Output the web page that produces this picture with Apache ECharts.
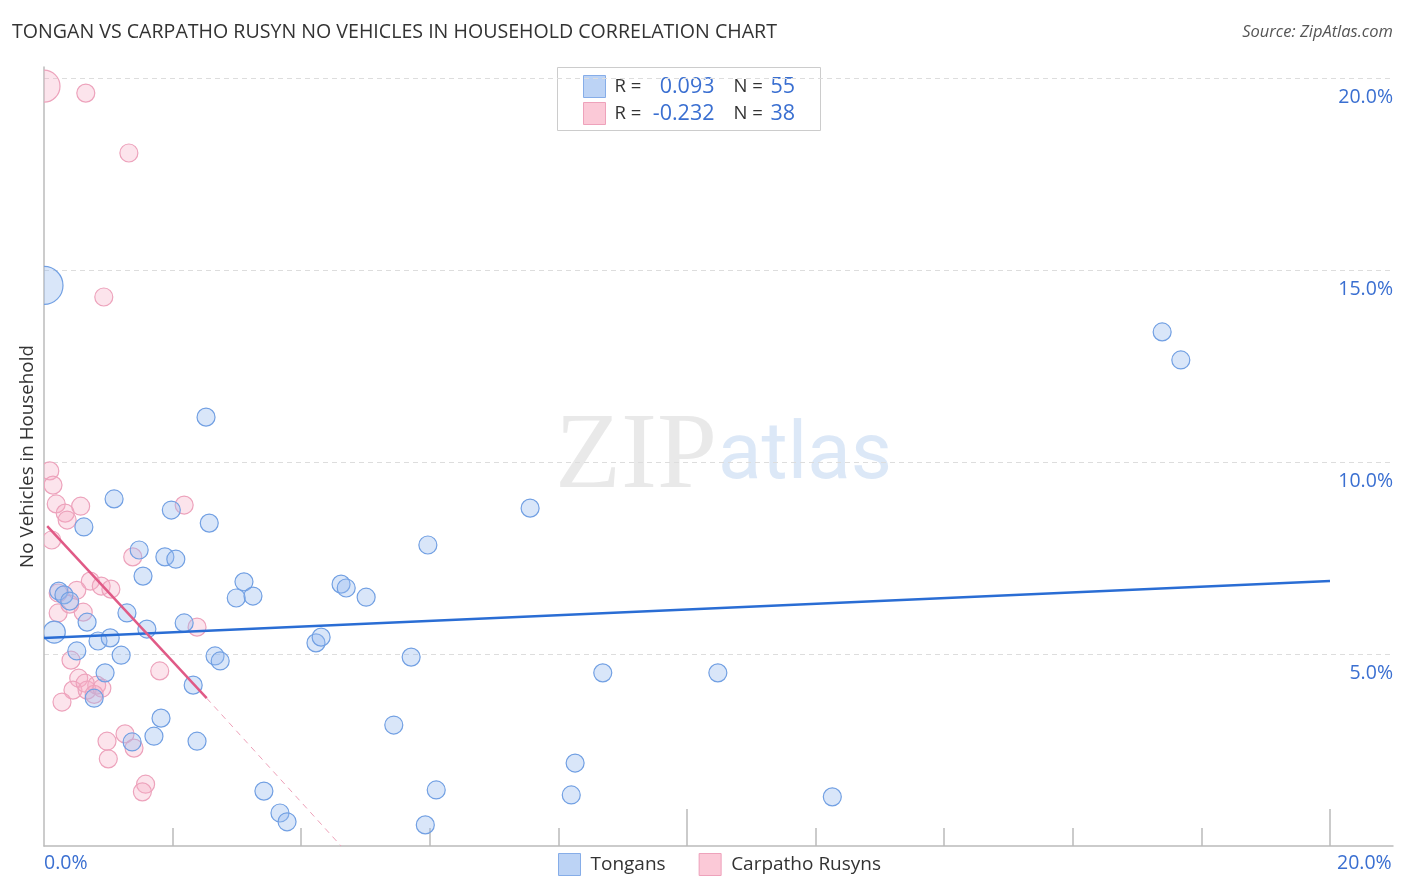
<!DOCTYPE html>
<html><head><meta charset="utf-8">
<script src="https://cdn.jsdelivr.net/npm/echarts@6/dist/echarts.min.js"></script>
<style>html,body{margin:0;padding:0;background:#fff}#c{width:1406px;height:892px}</style>
</head><body><div id="c"></div>
<script>
// ---- data ----
const seriesNames = ['Tongans', 'Carpatho Rusyns'];
const rValues = ['0.093', '-0.232'];
const nValues = ['55', '38'];

const tonganX = [0.0,17.39,17.68,2.52,1.09,1.98,0.62,2.57,7.56,5.97,1.48,1.88,2.05,1.54,3.11,2.99,3.25,4.62,4.70,5.01,0.23,0.31,0.40,0.67,1.29,1.60,2.18,0.16,0.84,1.03,0.51,1.20,0.95,0.78,2.32,2.66,2.74,1.82,1.71,1.37,2.38,4.23,4.31,5.71,8.69,10.48,5.44,8.26,6.10,8.20,12.26,3.42,3.67,3.78,5.93];
const tonganY = [14.6,13.39,12.66,11.17,9.04,8.75,8.31,8.41,8.80,7.84,7.71,7.53,7.47,7.03,6.88,6.46,6.51,6.82,6.72,6.48,6.64,6.54,6.38,5.83,6.07,5.65,5.81,5.57,5.34,5.42,5.08,4.97,4.51,3.85,4.19,4.95,4.82,3.33,2.86,2.71,2.73,5.29,5.44,4.92,4.51,4.51,3.15,2.16,1.46,1.33,1.28,1.43,0.86,0.63,0.55];

const rusynX = [0.0,0.65,1.32,0.93,0.09,0.14,0.19,0.33,0.36,0.57,2.18,0.12,1.38,0.72,0.89,1.04,0.51,0.22,0.61,0.22,0.40,2.38,0.42,1.80,0.54,0.45,0.67,0.82,0.90,0.64,0.28,0.98,1.26,1.40,1.00,1.58,1.53,0.78];
const rusynY = [19.79,19.61,18.05,14.30,9.77,9.40,8.91,8.67,8.49,8.85,8.88,7.97,7.53,6.90,6.77,6.69,6.66,6.59,6.09,6.07,6.30,5.70,4.84,4.56,4.37,4.06,4.06,4.19,4.11,4.24,3.75,2.73,2.92,2.55,2.27,1.61,1.41,3.95];

const tonganTrendX = [0, 20];
const tonganTrendY = [5.42, 6.90];
const rusynTrendX = [0.05, 2.53];
const rusynTrendY = [8.33, 3.85];
const rusynDashX = [2.53, 4.62];
const rusynDashY = [3.85, 0];

const xTickValues = [2, 4, 6, 8, 12, 14, 16, 18];
const xLongTickValues = [10, 20];
const xLabelValues = [0, 20];
const yLabelValues = [5, 10, 15, 20];

// ---- styling (kept apart from data) ----
const tonganBig = {0: 38, 27: 22};
const rusynBig = {0: 32};
const BLUE = '#3a6fd1';
const FONT = '"Open Sans", Roboto, sans-serif';
const zip = (xs, ys) => xs.map((x, i) => [x, ys[i]]);

function bubbleSeries(name, data, big, fill, stroke, z) {
  return {
    name, type: 'custom', data, z, clip: true, encode: {x: 0, y: 1},
    renderItem: (params, api) => {
      const p = api.coord([api.value(0), api.value(1)]);
      const r = (big[params.dataIndex] || 18) / 2;
      return {type: 'circle', shape: {cx: p[0], cy: p[1], r}, style: {fill, stroke, lineWidth: 1.2}};
    }
  };
}

const chart = echarts.init(document.getElementById('c'));
const yCommon = {type: 'value', min: 0, max: 20.29, interval: 5};
chart.setOption({
  animation: false,
  title: [
    {text: 'TONGAN VS CARPATHO RUSYN NO VEHICLES IN HOUSEHOLD CORRELATION CHART', left: 12, top: 22, padding: 0,
     textStyle: {fontFamily: FONT, fontSize: 19.6, fontWeight: 'normal', color: '#333'}},
    {text: 'Source: ZipAtlas.com', right: 13, top: 24, padding: 0,
     textStyle: {fontFamily: FONT, fontSize: 16.5, fontWeight: 'normal', fontStyle: 'italic', color: '#555'}}
  ],
  grid: {left: 44, right: 13, top: 67, bottom: 46, containLabel: false},
  xAxis: [
    {type: 'value', min: 0, max: 20.98,
     axisLine: {show: true, lineStyle: {color: '#bbb', width: 1.5}},
     axisTick: {show: true, inside: true, length: 18, customValues: xTickValues, lineStyle: {color: '#bbb', width: 1.5}},
     splitLine: {show: false},
     axisLabel: {show: true, customValues: xLabelValues, align: 'left', margin: 7,
       fontFamily: FONT, fontSize: 19.5, color: BLUE,
       formatter: v => v === 0 ? v.toFixed(1) + '%' : '{r|' + v.toFixed(1) + '%}',
       rich: {r: {fontFamily: FONT, fontSize: 19.5, color: BLUE, padding: [0, 0, 0, 7]}}}},
    {type: 'value', min: 0, max: 20.98, position: 'bottom', gridIndex: 0,
     axisLine: {show: false},
     axisTick: {show: true, inside: true, length: 37, customValues: xLongTickValues, lineStyle: {color: '#bbb', width: 1.5}},
     splitLine: {show: false}, axisLabel: {show: false}}
  ],
  yAxis: [
    Object.assign({}, yCommon, {position: 'left',
      name: 'No Vehicles in Household', nameLocation: 'middle', nameGap: 7, nameRotate: 90,
      nameTextStyle: {fontFamily: FONT, fontSize: 18.8, color: '#333', verticalAlign: 'bottom'},
      axisLine: {show: true, lineStyle: {color: '#bbb', width: 1.5}},
      axisTick: {show: false}, axisLabel: {show: false},
      splitLine: {show: true, showMinLine: false, showMaxLine: false, lineStyle: {color: '#ddd', type: [5, 4], width: 1}}}),
    Object.assign({}, yCommon, {position: 'right',
      axisLine: {show: false}, axisTick: {show: false}, splitLine: {show: false},
      axisLabel: {show: true, inside: true, margin: 0, customValues: yLabelValues, verticalAlign: 'top', padding: [9, 0, 0, 0],
        fontFamily: FONT, fontSize: 19.5, color: BLUE, formatter: v => v.toFixed(1) + '%'}})
  ],
  legend: {
    data: [
      {name: seriesNames[0], itemStyle: {color: '#bcd3f5', borderColor: '#86ade8', borderWidth: 1}},
      {name: seriesNames[1], itemStyle: {color: '#fbc9d7', borderColor: '#eea2bb', borderWidth: 1}}
    ],
    left: 558, top: 853, padding: 0, itemWidth: 22, itemHeight: 22, itemGap: 33, icon: 'rect',
    textStyle: {fontFamily: FONT, fontSize: 19, color: '#333', padding: [0, 0, 0, 5]}
  },
  graphic: [
    {type: 'text', left: 555, top: 405, z: 0, silent: true,
     style: {text: 'ZIP', font: '108px "Liberation Serif", "DejaVu Serif", serif', fill: 'rgba(200,200,200,0.4)'}},
    {type: 'text', left: 718, top: 418, z: 0, silent: true,
     style: {text: 'atlas', font: '80px Roboto, sans-serif', fill: 'rgba(150,185,230,0.33)'}},
    {type: 'group', left: 557, top: 67, z: 100, children: [
      {type: 'rect', shape: {x: 0, y: 0, width: 263, height: 63}, style: {fill: '#fff', stroke: '#ccc', lineWidth: 1}},
      {type: 'rect', shape: {x: 26, y: 8, width: 22, height: 22}, style: {fill: '#bcd3f5', stroke: '#86ade8', lineWidth: 1}},
      {type: 'rect', shape: {x: 26, y: 35, width: 22, height: 22}, style: {fill: '#fbc9d7', stroke: '#eea2bb', lineWidth: 1}},
      {type: 'text', x: 57, y: 19, style: {text: 'R = ', font: '18.5px ' + FONT, fill: '#333', verticalAlign: 'middle'}},
      {type: 'text', x: 57, y: 46, style: {text: 'R = ', font: '18.5px ' + FONT, fill: '#333', verticalAlign: 'middle'}},
      {type: 'text', x: 157, y: 19, style: {text: rValues[0], font: '21.5px ' + FONT, fill: BLUE, align: 'right', verticalAlign: 'middle'}},
      {type: 'text', x: 157, y: 46, style: {text: rValues[1], font: '21.5px ' + FONT, fill: BLUE, align: 'right', verticalAlign: 'middle'}},
      {type: 'text', x: 176, y: 19, style: {text: 'N = ', font: '18.5px ' + FONT, fill: '#333', verticalAlign: 'middle'}},
      {type: 'text', x: 176, y: 46, style: {text: 'N = ', font: '18.5px ' + FONT, fill: '#333', verticalAlign: 'middle'}},
      {type: 'text', x: 213, y: 19, style: {text: nValues[0], font: '21.5px ' + FONT, fill: BLUE, verticalAlign: 'middle'}},
      {type: 'text', x: 213, y: 46, style: {text: nValues[1], font: '21.5px ' + FONT, fill: BLUE, verticalAlign: 'middle'}}
    ]}
  ],
  series: [
    bubbleSeries(seriesNames[1], zip(rusynX, rusynY), rusynBig, 'rgba(247,170,196,0.32)', '#eda3bc', 2),
    bubbleSeries(seriesNames[0], zip(tonganX, tonganY), tonganBig, 'rgba(150,185,238,0.36)', '#72a0e3', 3),
    {name: 'tonganTrend', type: 'line', data: zip(tonganTrendX, tonganTrendY), z: 5, showSymbol: false, silent: true,
     lineStyle: {color: '#2a6dd4', width: 2.5}},
    {name: 'rusynTrend', type: 'line', data: zip(rusynTrendX, rusynTrendY), z: 5, showSymbol: false, silent: true,
     lineStyle: {color: '#e05a86', width: 2.5}},
    {name: 'rusynDash', type: 'line', data: zip(rusynDashX, rusynDashY), z: 5, showSymbol: false, silent: true,
     lineStyle: {color: '#eda0b8', width: 1, type: [6, 5]}}
  ]
});
</script></body></html>
